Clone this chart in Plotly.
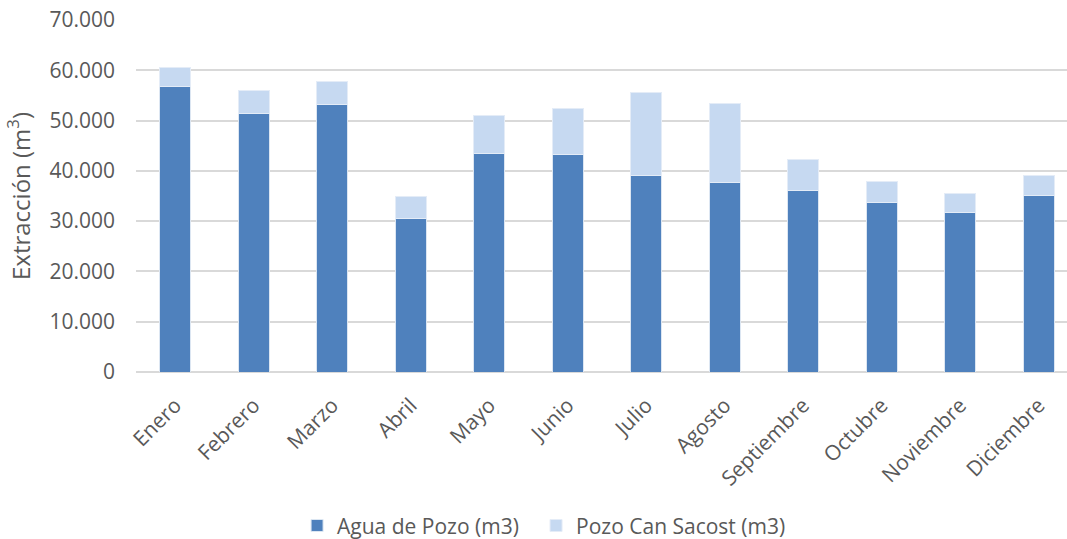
import plotly.graph_objects as go

# Monthly extraction by source (m3)
months = ["Enero", "Febrero", "Marzo", "Abril", "Mayo", "Junio", "Julio",
          "Agosto", "Septiembre", "Octubre", "Noviembre", "Diciembre"]
agua_pozo = [56870, 51430, 53280, 30530, 43530, 43330, 39010,
             37620, 36170, 33640, 31650, 35110]
pozo_can_sacost = [3640, 4640, 4580, 4300, 7560, 9020, 16600,
                   15800, 6110, 4260, 3860, 3900]

font_family = "Open Sans, Noto Sans, sans-serif"
text_color = "#595959"

fig = go.Figure()
fig.add_trace(go.Bar(
    x=months, y=agua_pozo, name="Agua de Pozo (m3)", legend="legend",
    marker=dict(color="#4F81BD", line=dict(color="#DCE6F2", width=1)),
))
fig.add_trace(go.Bar(
    x=months, y=pozo_can_sacost, name="Pozo Can Sacost (m3)", legend="legend2",
    marker=dict(color="#C6D9F1", line=dict(color="#E4ECF7", width=1)),
))

legend_style = dict(
    orientation="h", xanchor="left", y=-0.4953, yanchor="bottom",
    font=dict(size=21, color=text_color), itemwidth=30,
    bgcolor="rgba(0,0,0,0)",
)

fig.update_layout(
    barmode="stack",
    bargap=0.6,
    width=1067, height=539,
    margin=dict(l=136, r=0, t=20, b=167, autoexpand=False),
    paper_bgcolor="white", plot_bgcolor="white",
    separators=",.",
    font=dict(family=font_family, size=20, color=text_color),
    showlegend=True,
    legend=dict(x=0.173, **legend_style),
    legend2=dict(x=0.4297, **legend_style),
    xaxis=dict(
        range=[-0.5, 11.36], tickangle=-45, showgrid=False,
        showline=False, ticks="", ticklabelstandoff=16,
        tickfont=dict(size=21, color=text_color),
    ),
    yaxis=dict(
        range=[0, 70000], dtick=10000, tickformat=",.0f",
        showgrid=True, gridcolor="#D9D9D9", gridwidth=2,
        zeroline=True, zerolinecolor="#D9D9D9", zerolinewidth=2,
        showline=False, ticks="", ticklabelstandoff=20,
        tickfont=dict(size=21, color=text_color),
        title=dict(text="Extracción (m<sup>3</sup>)", standoff=12,
                   font=dict(size=24, color=text_color)),
    ),
)

fig.write_html("out.html")
